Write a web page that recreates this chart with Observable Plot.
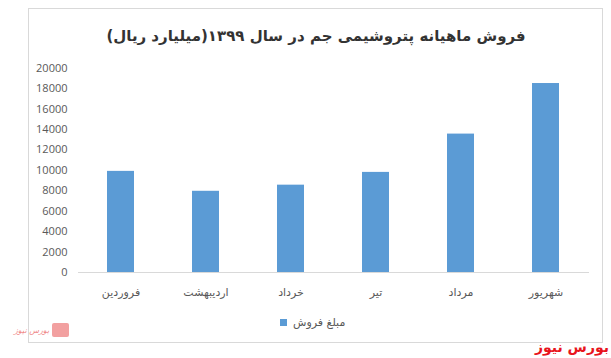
<!DOCTYPE html>
<html><head><meta charset="utf-8">
<script src="https://cdn.jsdelivr.net/npm/d3@7"></script>
<script src="https://cdn.jsdelivr.net/npm/@observablehq/plot@0.6"></script>
<style>
html,body{margin:0;padding:0;background:#fff;}
#wrap{position:relative;width:611px;height:358px;overflow:hidden;font-family:"Open Sans","DejaVu Sans",sans-serif;}
#frame{position:absolute;left:28px;top:8px;width:575px;height:335px;border:1px solid #d9d9d9;box-sizing:border-box;}
#title{position:absolute;left:28px;width:576px;top:27px;text-align:center;font-family:"DejaVu Sans",sans-serif;font-weight:bold;font-size:15px;color:#333333;direction:rtl;}
#chart{position:absolute;left:0;top:55px;}
#legend{position:absolute;left:280px;top:316px;font-family:"DejaVu Sans",sans-serif;font-size:11px;color:#595959;display:flex;align-items:center;}
#legend .sw{width:7px;height:7px;background:#5b9bd5;margin-right:6px;}
#wm{position:absolute;right:2px;top:339px;font-family:"DejaVu Sans",sans-serif;font-weight:bold;font-size:14px;color:#e8141c;direction:rtl;}
#logo{position:absolute;left:14px;top:323px;display:flex;align-items:center;}
#logo .t{font-family:"DejaVu Sans",sans-serif;font-size:8px;color:#f08a8a;font-style:italic;direction:rtl;}
#logo .b{width:17px;height:14px;background:#f2a0a0;border-radius:2px;margin-left:3px;}
</style></head>
<body><div id="wrap">
<div id="frame"></div>
<div id="title"></div>
<div id="chart"></div>
<div id="legend"><div class="sw"></div><span id="legtext"></span></div>
<div id="logo"><span class="t">بورس نیوز</span><div class="b"></div></div>
<div id="wm">بورس نیوز</div>
</div>
<script>
const titleText = "فروش ماهیانه پتروشیمی جم در سال ۱۳۹۹(میلیارد ریال)";
const seriesName = "مبلغ فروش";
const months = ["فروردین", "اردیبهشت", "خرداد", "تیر", "مرداد", "شهریور"];
const sales = [9900, 7950, 8550, 9800, 13550, 18500];
const yTicks = [0, 2000, 4000, 6000, 8000, 10000, 12000, 14000, 16000, 18000, 20000];

document.getElementById("title").textContent = titleText;
document.getElementById("legtext").textContent = seriesName;

const data = months.map((m, i) => ({month: m, value: sales[i]}));

const chart = Plot.plot({
  width: 611,
  height: 250,
  marginLeft: 78,
  marginRight: 22,
  marginTop: 12.7,
  marginBottom: 33,
  style: {fontFamily: "'Open Sans','DejaVu Sans',sans-serif", fontSize: "11px", color: "#595959", background: "transparent"},
  x: {domain: months, paddingInner: 0.68, paddingOuter: 0.34, label: null},
  y: {domain: [0, 20000], ticks: yTicks, label: null},
  marks: [
    Plot.barY(data, {x: "month", y: "value", fill: "#5b9bd5"}),
    Plot.ruleY([0], {stroke: "#d9d9d9", strokeWidth: 1}),
    Plot.axisY({ticks: yTicks, tickSize: 0, tickPadding: 11, tickFormat: d => String(d), fill: "#595959", fontSize: 11}),
    Plot.axisX({tickSize: 0, tickPadding: 16, fill: "#595959", fontSize: 11, fontFamily: "DejaVu Sans"})
  ]
});
document.getElementById("chart").appendChild(chart);
</script>
</body></html>
